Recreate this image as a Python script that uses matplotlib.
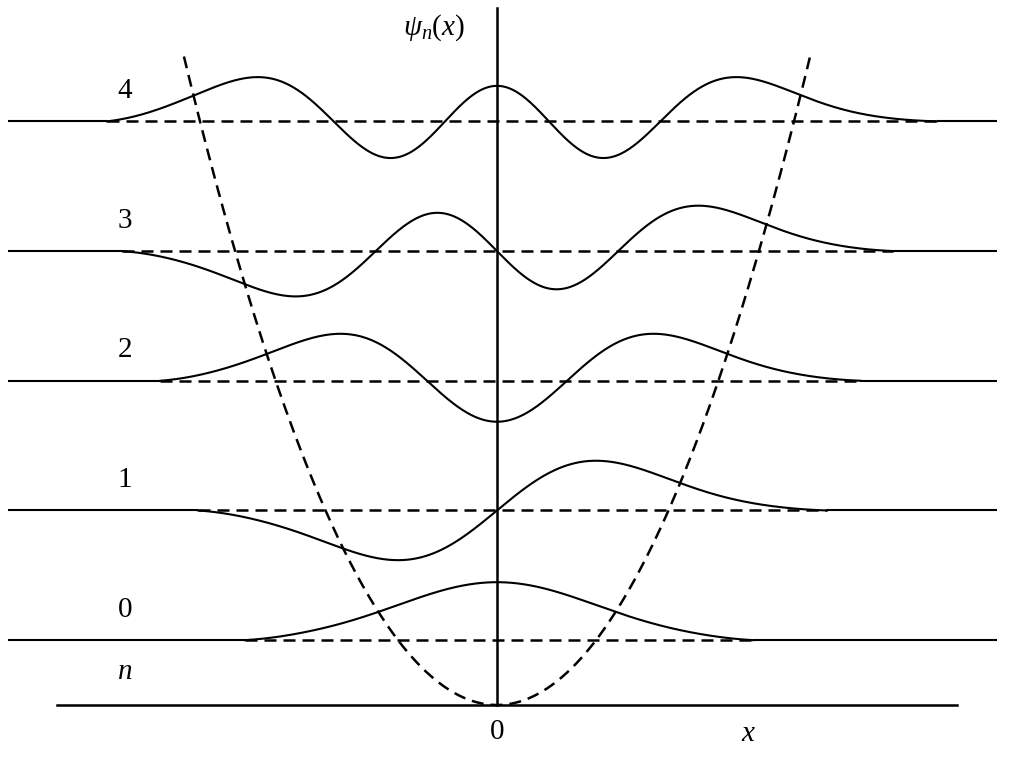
import numpy as np
import matplotlib
matplotlib.use("Agg")
import matplotlib.pyplot as plt
from numpy.polynomial.hermite import hermval
from math import factorial, pi, sqrt

# energy levels (E = n + 1/2, hbar*omega = 1) and the x range over which each
# wavefunction is drawn (oscillator units)
levels = [0, 1, 2, 3, 4]
level_labels = ["0", "1", "2", "3", "4"]
curve_left = [-2.55, -3.02, -3.40, -3.79, -3.94]
curve_right = [2.59, 3.33, 3.67, 4.00, 4.44]
psi_scale = 0.595        # wavefunction amplitude -> energy units
pot_top = 5.0            # potential drawn up to V = 5

plt.rcParams["font.family"] = ["Liberation Serif", "DejaVu Serif"]
plt.rcParams["mathtext.fontset"] = "custom"
plt.rcParams["mathtext.rm"] = "Liberation Serif"
plt.rcParams["mathtext.it"] = "Liberation Serif:italic"

W, H = 1009, 766
fig = plt.figure(figsize=(W / 100, H / 100), dpi=100)
ax = fig.add_axes([0, 0, 1, 1])
xu, yu = 99.0, 129.7      # pixels per unit
x0, y0 = 497.0, 705.0     # origin in pixels (from top)
ax.set_xlim(-x0 / xu, (W - x0) / xu)
ax.set_ylim((y0 - H) / yu, y0 / yu)
ax.axis("off")

lw = 1.5
dlw = 1.8
dash = (0, (4.8, 2.8))
edge_l, edge_r = (8 - x0) / xu, (997 - x0) / xu


def psi(n, x):
  coef = np.zeros(n + 1)
  coef[n] = 1
  norm = 1 / sqrt(2**n * factorial(n) * sqrt(pi))
  return norm * hermval(x, coef) * np.exp(-x**2 / 2)


def psi_clipped(n, x, xl, xr):
  # pull the truncated tails down onto the level line
  y = psi(n, x)
  y -= psi(n, xl) * np.exp(-((x - xl) / 0.6)**2)
  y -= psi(n, xr) * np.exp(-((x - xr) / 0.6)**2)
  return y


for n, lab, xl, xr in zip(levels, level_labels, curve_left, curve_right):
  E = n + 0.5
  ax.plot([edge_l, xl], [E, E], color="black", lw=lw, solid_capstyle="butt")
  ax.plot([xr, edge_r], [E, E], color="black", lw=lw, solid_capstyle="butt")
  ax.plot([xl, xr], [E, E], color="black", lw=dlw, linestyle=dash)
  xs = np.linspace(xl, xr, 600)
  ax.plot(xs, E + psi_scale * psi_clipped(n, xs, xl, xr), color="black",
          lw=lw)
  ax.text((125 - x0) / xu, E + 0.235, lab, fontsize=21, ha="center",
          va="center")

# potential
xm = sqrt(2 * pot_top)
xp = np.linspace(-xm, xm, 400)
ax.plot(xp, xp**2 / 2, color="black", lw=dlw, linestyle=dash)

# axes
ax.plot([(57 - x0) / xu, (957 - x0) / xu], [0, 0], color="black", lw=lw + 0.3)
ax.plot([0, 0], [0, (y0 - 8) / yu], color="black", lw=lw + 0.3)

ax.text((125 - x0) / xu, 0.255, "$n$", fontsize=21, ha="center", va="center")
ax.text(0, -0.21, "0", fontsize=21, ha="center", va="center")
ax.text(2.54, -0.22, "$x$", fontsize=21, ha="center", va="center")
ax.text(-0.64, 5.22, r"$\psi_n(x)$", fontsize=21, ha="center", va="center")

fig.savefig("out.png", dpi=100)
